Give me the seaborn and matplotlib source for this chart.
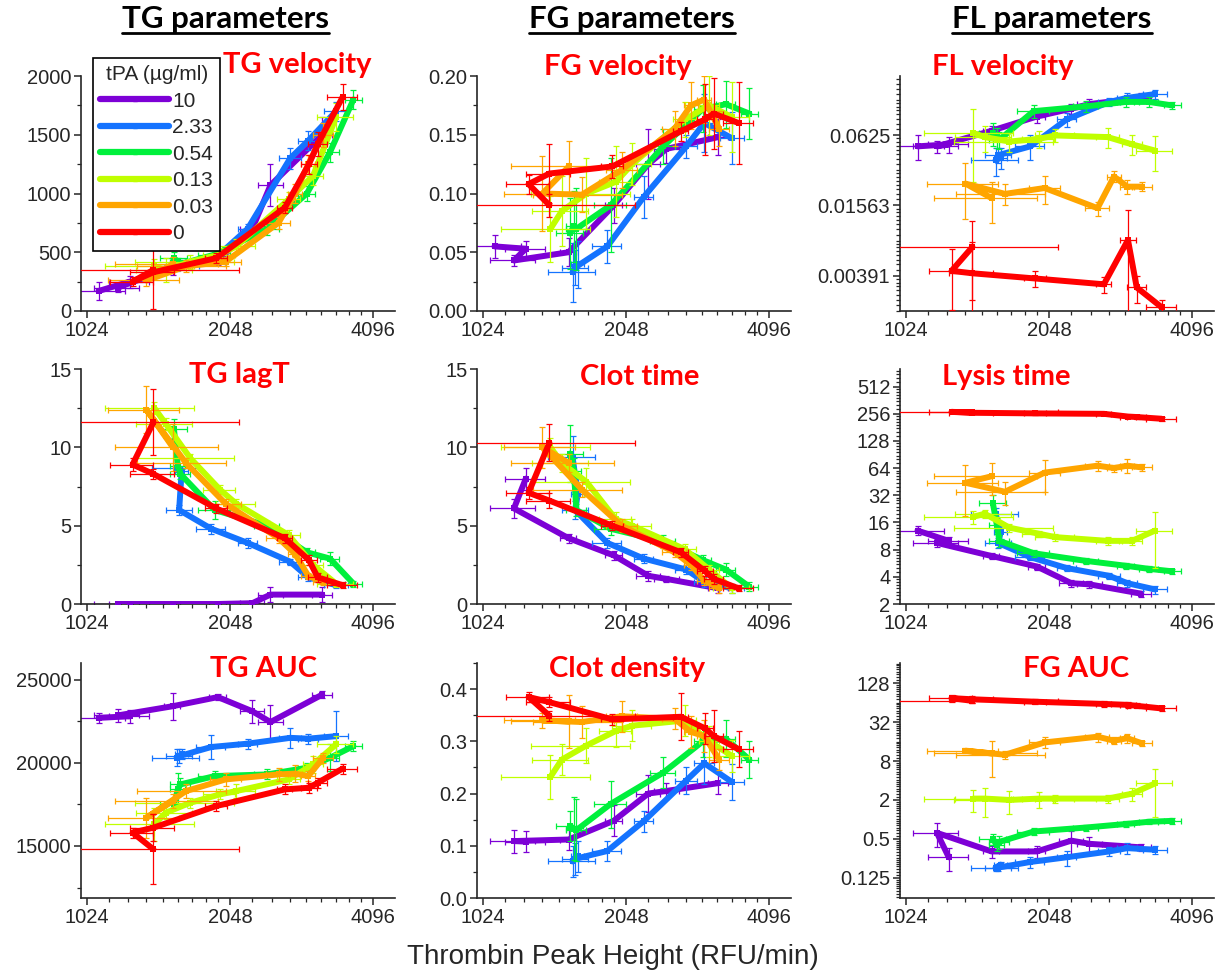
import numpy as np
import pandas as pd
import matplotlib
matplotlib.use("Agg")
import matplotlib.pyplot as plt
import seaborn as sns
from matplotlib.lines import Line2D
from matplotlib.ticker import FixedLocator, NullFormatter

nan = np.nan

# ---------------- data ----------------
groups = ["10", "2.33", "0.54", "0.13", "0.03", "0"]
colors = ["#7d00d6", "#1473ff", "#00f03c", "#c0ff00", "#ffa500", "#ff0000"]

# Thrombin peak height (x) per tPA group, in sample order
x_10 = [1083, 1260, 1190, 1550, 1930, 2280, 2490, 3200]
x_233 = [1580, 1620, 1600, 1870, 2230, 2740, 2990, 3420]
x_054 = [1560, 1590, 1610, 1900, 2450, 2970, 3320, 3720]
x_013 = [1420, 1500, 1690, 1950, 2110, 2720, 3060, 3420]
x_003 = [1552, 1366, 1654, 2004, 2589, 2804, 2990, 3214]
x_0 = [1413, 1277, 1413, 1915, 2670, 3000, 3130, 3530]

xe_10 = [150, 120, 130, 60, 80, 130, 150, 150]
xe_233 = [180, 50, 100, 130, 100, 150, 150, 200]
xe_054 = [100, 60, 80, 150, 150, 120, 150, 150]
xe_013 = [300, 200, 400, 150, 200, 150, 150, 300]
xe_003 = [380, 230, 350, 150, 150, 100, 100, 150]
xe_0 = [720, 130, 150, 100, 100, 120, 150, 250]

xs = [x_10, x_233, x_054, x_013, x_003, x_0]
xes = [xe_10, xe_233, xe_054, xe_013, xe_003, xe_0]

tg_velocity = [
    [170, 250, 200, 370, 430, 700, 1070, 1500],
    [380, 400, 390, 420, 700, 1300, 1450, 1700],
    [450, 420, 400, 480, 700, 1000, 1350, 1800],
    [380, 350, 420, 480, 550, 950, 1150, 1650],
    [400, 260, 380, 420, 750, 1000, 1250, 1500],
    [350, 250, 330, 450, 880, 1250, 1420, 1820]]
tg_velocity_err = [
    [80, 50, 40, 60, 40, 60, 180, 150],
    [40, 30, 30, 30, 40, 90, 80, 80],
    [50, 30, 30, 40, 50, 60, 80, 80],
    [60, 100, 60, 60, 60, 60, 80, 120],
    [60, 50, 50, 40, 50, 80, 80, 100],
    [0, 40, 310, 40, 50, 80, 100, 110]]

fg_velocity = [
    [0.055, 0.053, 0.043, 0.05, 0.09, 0.125, 0.138, 0.148],
    [0.033, 0.04, 0.037, 0.055, 0.097, 0.14, 0.16, 0.147],
    [0.066, 0.072, 0.07, 0.09, 0.14, 0.172, 0.176, 0.168],
    [0.07, 0.085, 0.1, 0.11, 0.125, 0.163, 0.175, 0.165],
    [0.123, 0.1, 0.099, 0.12, 0.155, 0.175, 0.18, 0.155],
    [0.09, 0.108, 0.117, 0.123, 0.153, 0.163, 0.168, 0.16]]
fg_velocity_err = [
    [0.01, 0.007, 0.005, 0.012, 0.015, 0.03, 0.012, 0.015],
    [0.025, 0.02, 0.015, 0.014, 0.018, 0.01, 0.025, 0.022],
    [0.03, 0.03, 0.035, 0.04, 0.015, 0.02, 0.02, 0.022],
    [0.028, 0.03, 0.03, 0.03, 0.018, 0.015, 0.025, 0.03],
    [0.022, 0.032, 0.015, 0.015, 0.015, 0.02, 0.02, 0.015],
    [0.01, 0.008, 0.025, 0.01, 0.008, 0.03, 0.03, 0.035]]

fl_velocity = [
    [0.05, 0.052, 0.05, 0.068, 0.09, 0.105, 0.115, 0.13],
    [0.038, 0.04, 0.042, 0.05, 0.085, 0.12, 0.13, 0.14],
    [0.065, 0.06, 0.057, 0.1, 0.11, 0.12, 0.12, 0.112],
    [0.065, 0.06, 0.055, 0.058, 0.062, 0.06, 0.052, 0.046],
    [0.018, 0.024, 0.0196, 0.022, 0.0148, 0.0276, 0.0226, 0.0226],
    [0.0069, 0.0043, 0.0041, 0.0037, 0.0033, 0.0079, 0.0031, 0.0021]]
fl_velocity_err = [
    [0.012, 0.008, 0.006, 0.007, 0.01, 0.01, 0.012, 0.012],
    [0.01, 0.008, 0.006, 0.012, 0.012, 0.01, 0.012, 0.012],
    [0.015, 0.012, 0.01, 0.012, 0.012, 0.012, 0.012, 0.008],
    [0.04, 0.015, 0.01, 0.01, 0.008, 0.012, 0.01, 0.015],
    [0.007, 0.012, 0.004, 0.006, 0.002, 0.003, 0.003, 0.002],
    [0.0045, 0.0023, 0.0035, 0.0006, 0.0005, 0.0065, 0.0008, 0.0003]]

tg_lagt = [
    [nan, 0, 0, 0, 0, 0.05, 0.6, 0.6],
    [8.7, 8.5, 6.0, 4.8, 3.9, 2.7, 1.7, 1.2],
    [11.2, 8.8, 8.3, 6.0, 5.0, 3.3, 2.9, 1.3],
    [12.5, 11.5, 9.3, 7.3, 6.4, 4.4, 2.5, 1.3],
    [10.0, 12.4, 9.0, 6.4, 4.2, 3.2, 1.8, 1.4],
    [11.6, 8.9, 8.3, 6.1, 4.2, 2.8, 1.7, 1.2]]
tg_lagt_err = [
    [0, 0, 0, 0, 0, 0.1, 0.5, 0.5],
    [0.3, 0.3, 0.3, 0.3, 0.3, 0.2, 0.2, 0.2],
    [0.6, 0.5, 0.3, 0.6, 0.3, 0.3, 0.4, 0.2],
    [0.4, 0.4, 0.3, 0.3, 0.3, 0.3, 0.2, 0.2],
    [1.5, 1.5, 0.3, 0.3, 0.3, 0.2, 0.2, 0.2],
    [2.1, 0.4, 0.3, 0.3, 0.3, 0.3, 0.3, 0.2]]

clot_time = [
    [nan, 8.0, 6.1, 4.2, 3.1, 1.8, 1.6, 1.0],
    [9.4, 7.0, 6.0, 3.9, 2.9, 2.2, 1.4, 1.0],
    [9.6, 8.5, 6.0, 4.8, 4.0, 2.8, 2.2, 1.1],
    [10.0, 9.0, 7.8, 5.4, 5.0, 3.5, 2.2, 1.0],
    [9.0, 10.0, 7.3, 5.0, 3.3, 2.5, 1.5, 1.0],
    [10.3, 7.1, 6.6, 5.0, 3.3, 2.1, 1.6, 1.0]]
clot_time_err = [
    [0, 0.7, 0.6, 0.3, 0.3, 0.3, 0.2, 0.3],
    [1.3, 1.3, 0.6, 0.3, 0.3, 0.3, 0.3, 0.3],
    [1.8, 0.8, 0.4, 0.4, 0.4, 0.3, 0.4, 0.3],
    [0.6, 0.6, 0.9, 0.5, 0.4, 0.3, 0.3, 0.3],
    [0.6, 1.3, 0.5, 0.4, 0.3, 0.3, 0.3, 0.3],
    [1.2, 0.4, 0.5, 0.3, 0.3, 0.3, 0.3, 0.2]]

lysis_time = [
    [13, 10, 9.5, 6.8, 5.2, 3.4, 3.3, 2.6],
    [20, 12.5, 9.5, 6.6, 5.0, 4.1, 3.4, 2.9],
    [26, 15, 10, 7.3, 6.0, 5.3, 4.9, 4.6],
    [18.5, 20, 14, 12, 11, 10, 10, 13],
    [52, 44, 35, 57, 68, 64, 68, 65],
    [265, 268, 262, 258, 255, 238, 235, 225]]
lysis_time_err = [
    [1.5, 1.0, 1.0, 0.5, 0.4, 0.3, 0.3, 0.2],
    [3, 2, 1.2, 0.5, 0.4, 0.3, 0.3, 0.3],
    [6, 3, 1.5, 0.6, 0.4, 0.4, 0.4, 0.3],
    [3, 2, 1.5, 1, 1, 1, 1, 8],
    [20, 25, 10, 22, 8, 6, 12, 6],
    [10, 10, 10, 10, 10, 10, 12, 12]]

tg_auc = [
    [22700, 22800, 22850, 23400, 23950, 23100, 22450, 24100],
    [20300, 20500, 20400, 20950, 21150, 21500, 21450, 21600],
    [17500, 18400, 18700, 19200, 19300, 19700, 20300, 21000],
    [16300, 17000, 17600, 18100, 18300, 19000, 19900, 21100],
    [17700, 16700, 18300, 19000, 19300, 19350, 19200, 20300],
    [14800, 15800, 16100, 17400, 18400, 18500, 18800, 19650]]
tg_auc_err = [
    [300, 400, 400, 800, 200, 700, 1000, 200],
    [500, 300, 400, 700, 300, 600, 300, 1500],
    [300, 1000, 400, 300, 300, 300, 800, 300],
    [1000, 400, 300, 300, 400, 300, 500, 500],
    [400, 1200, 400, 400, 400, 500, 300, 300],
    [2100, 300, 800, 300, 300, 300, 300, 300]]

clot_density = [
    [nan, 0.108, 0.109, 0.112, 0.148, 0.2, 0.205, 0.22],
    [0.07, 0.08, 0.075, 0.09, 0.147, 0.225, 0.258, 0.222],
    [0.138, 0.133, 0.13, 0.18, 0.24, 0.3, 0.305, 0.265],
    [0.232, 0.265, 0.292, 0.32, 0.33, 0.34, 0.3, 0.272],
    [0.338, 0.34, 0.337, 0.348, 0.343, 0.318, 0.31, 0.265],
    [0.349, 0.385, 0.375, 0.342, 0.347, 0.325, 0.31, 0.285]]
clot_density_err = [
    [0, 0.02, 0.022, 0.02, 0.03, 0.035, 0.015, 0.02],
    [0.03, 0.03, 0.03, 0.02, 0.02, 0.025, 0.04, 0.035],
    [0.028, 0.06, 0.06, 0.045, 0.03, 0.03, 0.035, 0.035],
    [0.042, 0.03, 0.033, 0.03, 0.03, 0.03, 0.03, 0.03],
    [0.05, 0.015, 0.03, 0.03, 0.02, 0.03, 0.03, 0.02],
    [0.01, 0.01, 0.01, 0.01, 0.045, 0.03, 0.05, 0.035]]

fg_auc = [
    [nan, 0.26, 0.62, 0.32, 0.32, 0.47, 0.42, 0.37],
    [0.18, 0.2, 0.18, 0.22, 0.26, 0.32, 0.36, 0.34],
    [0.5, 0.4, 0.45, 0.65, 0.75, 0.85, 0.92, 0.95],
    [2.1, 2.1, 2.0, 2.1, 2.1, 2.1, 2.5, 3.6],
    [10.5, 11.5, 10.0, 15.5, 19, 16.5, 18, 15],
    [68, 75, 72, 66, 61, 59, 57, 52]]
fg_auc_err = [
    [0, 0.1, 0.25, 0.07, 0.07, 0.2, 0.12, 0.05],
    [0.02, 0.02, 0.02, 0.04, 0.07, 0.05, 0.07, 0.05],
    [0.1, 0.08, 0.1, 0.08, 0.08, 0.08, 0.08, 0.1],
    [0.8, 1.0, 0.8, 0.6, 0.3, 0.3, 0.6, 2.5],
    [6, 1, 1.5, 3, 3, 2, 3, 1.5],
    [5, 10, 8, 6, 6, 6, 5, 5]]

x_ticks = [1024, 2048, 4096]
x_tick_labels = ["1024", "2048", "4096"]

# ---------------- style ----------------
sns.set_style("ticks")
plt.rcParams["font.family"] = ["Liberation Sans", "DejaVu Sans"]
TXT = "#262626"

fig = plt.figure(figsize=(12.25, 9.73), dpi=100)
W, H = 1225.0, 973.0
col_left = [81, 477, 900]
row_top = [76, 369, 663]
AW, AH = 314, 235


def lin_minor(step, lo, hi):
    return list(np.arange(lo, hi + step / 2, step))


def log2_minor(e0, e1):
    return [2.0 ** n * (1 + k / 8.0) for n in range(e0, e1) for k in range(8)]


panels = [
    # row, col, title, (tx, ty), y, yerr, log, ylim, majors, labels, minors
    (0, 0, "TG velocity", (297, 73), tg_velocity, tg_velocity_err, False, (0, 2000),
     [0, 500, 1000, 1500, 2000], ["0", "500", "1000", "1500", "2000"], lin_minor(250, 0, 2000)),
    (0, 1, "FG velocity", (618, 75), fg_velocity, fg_velocity_err, False, (0, 0.2),
     [0, 0.05, 0.10, 0.15, 0.20], ["0.00", "0.05", "0.10", "0.15", "0.20"], lin_minor(0.025, 0, 0.2)),
    (0, 2, "FL velocity", (1003, 75), fl_velocity, fl_velocity_err, True, (0.00195, 0.2),
     [2 ** -8, 2 ** -6, 2 ** -4], ["0.00391", "0.01563", "0.0625"], log2_minor(-9, -2)),
    (1, 0, "TG lagT", (239, 383), tg_lagt, tg_lagt_err, False, (0, 15),
     [0, 5, 10, 15], ["0", "5", "10", "15"], lin_minor(2.5, 0, 15)),
    (1, 1, "Clot time", (640, 385), clot_time, clot_time_err, False, (0, 15),
     [0, 5, 10, 15], ["0", "5", "10", "15"], lin_minor(2.5, 0, 15)),
    (1, 2, "Lysis time", (1006, 385), lysis_time, lysis_time_err, True, (2, 800),
     [2, 4, 8, 16, 32, 64, 128, 256, 512], ["2", "4", "8", "16", "32", "64", "128", "256", "512"],
     log2_minor(1, 10)),
    (2, 0, "TG AUC", (264, 677), tg_auc, tg_auc_err, False, (11870, 26000),
     [15000, 20000, 25000], ["15000", "20000", "25000"], [12500, 17500, 22500]),
    (2, 1, "Clot density", (627, 677), clot_density, clot_density_err, False, (0, 0.45),
     [0, 0.1, 0.2, 0.3, 0.4], ["0.0", "0.1", "0.2", "0.3", "0.4"], lin_minor(0.05, 0, 0.45)),
    (2, 2, "FG AUC", (1076, 677), fg_auc, fg_auc_err, True, (0.061, 262),
     [0.125, 0.5, 2, 8, 32, 128], ["0.125", "0.5", "2", "8", "32", "128"], log2_minor(-5, 9)),
]

x_minor = [b * (1 + k / 9.0) for b in (1024, 2048) for k in range(1, 9)] + [4096 * (1 + 1 / 9.0)]

for (r, c, title, (tx, ty), Y, YE, is_log, ylim, majors, labels, minors) in panels:
    ax = fig.add_axes([col_left[c] / W, 1 - (row_top[r] + AH) / H, AW / W, AH / H])
    ax.set_xscale("log", base=2)
    if is_log:
        ax.set_yscale("log", base=2, nonpositive="clip")
    for gi in range(6):
        xv = np.array(xs[gi], float)
        yv = np.array(Y[gi], float)
        ye = np.array(YE[gi], float)
        xe = np.array(xes[gi], float)
        ax.errorbar(xv, yv, yerr=ye, xerr=xe, fmt="none", ecolor=colors[gi],
                    elinewidth=0.9, capsize=2.2, capthick=0.9, zorder=2 + gi * 2)
        df = pd.DataFrame({"x": xv, "y": yv})
        sns.lineplot(data=df, x="x", y="y", sort=False, estimator=None, color=colors[gi],
                     lw=4.3, marker="s", markersize=3.8, markeredgewidth=0,
                     ax=ax, legend=False, zorder=3 + gi * 2)
    ax.set_xlim(995, 4550)
    ax.set_ylim(*ylim)
    ax.xaxis.set_major_locator(FixedLocator(x_ticks))
    ax.set_xticklabels(x_tick_labels)
    ax.xaxis.set_minor_locator(FixedLocator(x_minor))
    ax.xaxis.set_minor_formatter(NullFormatter())
    ax.yaxis.set_major_locator(FixedLocator(majors))
    ax.set_yticklabels(labels)
    ax.yaxis.set_minor_locator(FixedLocator(minors))
    ax.yaxis.set_minor_formatter(NullFormatter())
    ax.set_xlabel("")
    ax.set_ylabel("")
    for s in ("top", "right"):
        ax.spines[s].set_visible(False)
    for s in ("left", "bottom"):
        ax.spines[s].set_linewidth(1.2)
        ax.spines[s].set_color(TXT)
    ax.tick_params(which="major", direction="out", length=5, width=1.1, labelsize=14.5,
                   colors=TXT, pad=2)
    ax.tick_params(which="minor", direction="out", length=2.6, width=0.9, colors=TXT)
    ax.patch.set_alpha(0)
    fig.text(tx / W, 1 - ty / H, title, color="#ff0000", fontsize=21, fontweight="bold",
             family=["Lato", "DejaVu Sans"], ha="center", va="baseline")

# column headers (bold, underlined)
headers = [("TG parameters", 225), ("FG parameters", 632), ("FL parameters", 1052)]
renderer = fig.canvas.get_renderer()
for txt, cx in headers:
    t = fig.text(cx / W, 1 - 28 / H, txt, fontsize=22.5, fontweight="bold",
                 family=["Lato", "DejaVu Sans"], ha="center", va="baseline", color="black")
    bb = t.get_window_extent(renderer=renderer)
    yl = 1 - 33 / H
    fig.add_artist(Line2D([bb.x0 / W, bb.x1 / W], [yl, yl], color="black", lw=2.0,
                          transform=fig.transFigure))

fig.text(613 / W, 1 - 957 / H, "Thrombin Peak Height (RFU/min)", fontsize=20,
         ha="center", va="center", color=TXT)

handles = [Line2D([], [], color=colors[i], lw=4.5, marker="s", markersize=3) for i in range(6)]
leg = fig.legend(handles, groups, title="tPA (µg/ml)", loc="upper left",
                 bbox_to_anchor=(93 / W, 1 - 58 / H), frameon=True, fancybox=False,
                 edgecolor="black", framealpha=1, fontsize=15, title_fontsize=15,
                 handlelength=3.3, handletextpad=0.15, labelspacing=0.36, borderpad=0.35,
                 borderaxespad=0)
leg.get_frame().set_linewidth(1.2)
for t in leg.get_texts():
    t.set_color(TXT)
leg.get_title().set_color(TXT)

fig.savefig("out.png", dpi=100)
